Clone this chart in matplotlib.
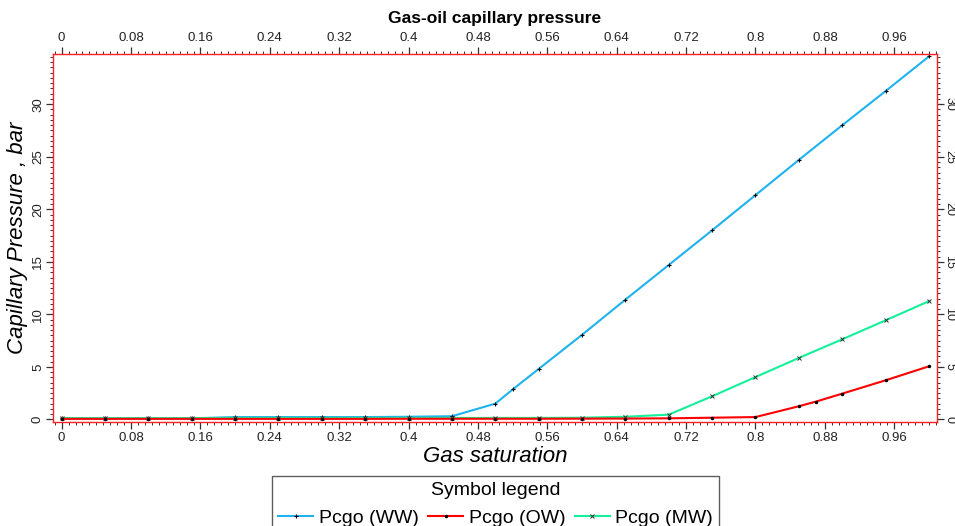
import numpy as np
import matplotlib
matplotlib.use("Agg")
import matplotlib.pyplot as plt
from matplotlib.ticker import FixedLocator, MultipleLocator, FuncFormatter

plt.rcParams['font.family'] = ['Liberation Sans', 'DejaVu Sans']

# Gas saturation grids for each wettability case
sg_ww = [0.0, 0.05, 0.10, 0.15, 0.20, 0.25, 0.30, 0.35, 0.40, 0.45, 0.50, 0.52,
         0.55, 0.60, 0.65, 0.70, 0.75, 0.80, 0.85, 0.90, 0.95, 1.00]
pc_ww = [0.10, 0.10, 0.10, 0.10, 0.22, 0.22, 0.22, 0.22, 0.25, 0.30, 1.50, 2.85,
         4.80, 8.05, 11.40, 14.70, 18.00, 21.35, 24.70, 28.00, 31.25, 34.55]

sg_ow = [0.0, 0.05, 0.10, 0.15, 0.20, 0.25, 0.30, 0.35, 0.40, 0.45, 0.50, 0.55,
         0.60, 0.65, 0.70, 0.75, 0.80, 0.85, 0.87, 0.90, 0.95, 1.00]
pc_ow = [0.05, 0.05, 0.05, 0.05, 0.05, 0.05, 0.05, 0.05, 0.06, 0.06, 0.06, 0.06,
         0.07, 0.08, 0.10, 0.16, 0.22, 1.25, 1.70, 2.45, 3.72, 5.05]

sg_mw = [0.0, 0.05, 0.10, 0.15, 0.20, 0.25, 0.30, 0.35, 0.40, 0.45, 0.50, 0.55,
         0.60, 0.65, 0.70, 0.75, 0.80, 0.85, 0.90, 0.95, 1.00]
pc_mw = [0.12, 0.12, 0.12, 0.12, 0.14, 0.14, 0.14, 0.14, 0.14, 0.14, 0.14, 0.14,
         0.16, 0.25, 0.45, 2.20, 4.03, 5.85, 7.62, 9.43, 11.25]

series_labels = ["Pcgo (WW)", "Pcgo (OW)", "Pcgo (MW)"]
x_major = [0, 0.08, 0.16, 0.24, 0.32, 0.4, 0.48, 0.56, 0.64, 0.72, 0.8, 0.88, 0.96]

fig = plt.figure(figsize=(9.55, 5.26), dpi=100)
ax = fig.add_axes([0.0555, 0.1977, 0.9254, 0.6990])

ax.plot(sg_ww, pc_ww, color="#1FB2F0", lw=1.5, marker="+", ms=3.5, mec="black",
        mew=0.8, label=series_labels[0], zorder=2)
ax.plot(sg_ow, pc_ow, color="#FF0000", lw=1.5, marker=".", ms=3, mec="black",
        mfc="black", label=series_labels[1], zorder=3)
ax.plot(sg_mw, pc_mw, color="#14F09A", lw=1.5, marker="x", ms=3, mec="#303030",
        mew=0.7, label=series_labels[2], zorder=2.5)

ax.set_xlim(-0.01, 1.009)
ax.set_ylim(-0.25, 34.75)

fmt = FuncFormatter(lambda v, p: f"{v:g}")
ax.xaxis.set_major_locator(FixedLocator(x_major))
ax.xaxis.set_minor_locator(MultipleLocator(0.008))
ax.xaxis.set_major_formatter(fmt)
ax.yaxis.set_major_locator(MultipleLocator(5))
ax.yaxis.set_minor_locator(MultipleLocator(0.5))
ax.yaxis.set_major_formatter(fmt)

ax.tick_params(axis="both", which="both", direction="out", top=True, right=True,
               labeltop=True, labelright=True, colors="#333333", labelcolor="#222222",
               labelsize=9.5)
ax.tick_params(which="major", length=5, width=0.9)
ax.tick_params(which="minor", length=2.5, width=0.7)
ax.tick_params(axis="x", which="major", pad=2.5)
ax.tick_params(axis="y", which="major", pad=1.5)

# left labels read upwards, right labels read downwards
for t in ax.yaxis.get_major_ticks():
    t.label1.set_rotation(90)
    t.label1.set_rotation_mode("anchor")
    t.label1.set_ha("center")
    t.label1.set_va("bottom")
    t.label2.set_rotation(-90)
    t.label2.set_rotation_mode("anchor")
    t.label2.set_ha("center")
    t.label2.set_va("bottom")
    t.label2.set_fontsize(9)
    t.label2.set_x(0.997)

for s in ax.spines.values():
    s.set_color("#FF2020")
    s.set_linewidth(1.0)

ax.set_xlabel("Gas saturation", fontsize=16, style="italic", labelpad=1)
ax.set_ylabel("Capillary Pressure , bar", fontsize=16, style="italic")
ax.yaxis.set_label_coords(-0.028, 0.5)
fig.text(0.518, 0.965, "Gas-oil capillary pressure", ha="center", va="center",
         fontsize=12.5, fontweight="bold")

leg = fig.legend(loc="upper center", bbox_to_anchor=(0.519, 0.0955), ncol=3,
                 title="Symbol legend", fontsize=14, title_fontsize=14,
                 frameon=True, fancybox=False, edgecolor="#333333",
                 handlelength=1.8, handletextpad=0.28, columnspacing=0.5,
                 borderpad=0.3, labelspacing=0.55, borderaxespad=0)
leg.get_frame().set_linewidth(1.0)

fig.savefig("out.png", dpi=100)
